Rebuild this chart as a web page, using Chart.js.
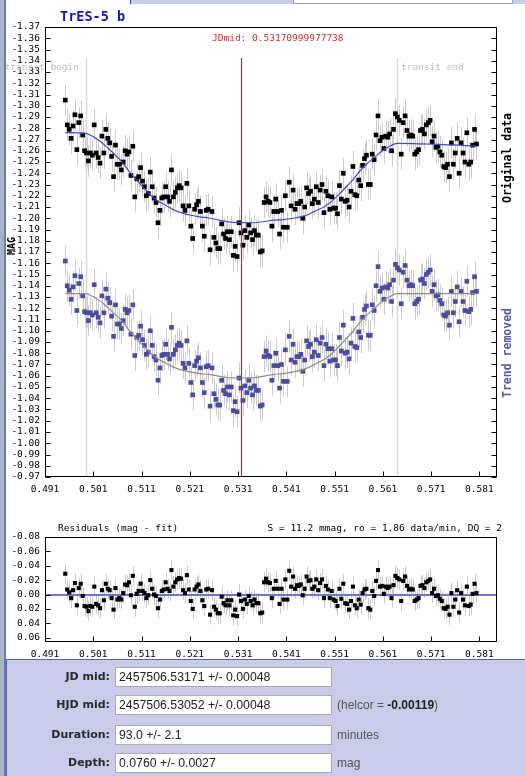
<!DOCTYPE html>
<html>
<head>
<meta charset="utf-8">
<script src="https://cdn.jsdelivr.net/npm/chart.js@4.4.1/dist/chart.umd.min.js"></script>
<style>
body { margin:0; background:#fff; width:525px; height:776px; position:relative; overflow:hidden; }
canvas { position:absolute; left:0; }
.t { position:absolute; white-space:nowrap; line-height:1; }
.mono { font-family:"DejaVu Sans Mono", monospace; font-size:9.5px; }
.rot { transform:translate(-50%,-50%) rotate(-90deg); font-family:"DejaVu Sans Mono", monospace; font-weight:bold; }
.lbl { position:absolute; left:0; width:110px; text-align:right; font:bold 11px "DejaVu Sans", sans-serif; color:#2a2a2a; line-height:20px; }
.box { position:absolute; left:115px; width:217px; height:20px; box-sizing:border-box; background:#fff;
       border:1px solid #a8a8b0; padding-left:3px; font:12.3px "Liberation Sans", Arial, sans-serif; color:#222; line-height:18px; }
.unit { position:absolute; left:337px; font:12px "Liberation Sans", Arial, sans-serif; color:#555; line-height:20px; }
</style>
</head>
<body>
<canvas id="lcChart" width="525" height="500" style="top:0"></canvas>
<canvas id="resChart" width="525" height="160" style="top:500px"></canvas>

<div class="t" style="left:130px;top:0;width:395px;height:4px;background:#c9cbe8;border-left:1px solid #3548a0"></div>
<div class="t" style="left:293px;top:0;width:218px;height:3px;background:#fff;border:1px solid #a0a0a8;border-top:0"></div>

<div class="t" style="left:60px;top:8px;font:bold 13.5px 'DejaVu Sans Mono',monospace;color:#1616a8">TrES-5 b</div>
<div class="t mono" style="left:212px;top:33px;color:#c83232">JDmid: 0.53170999977738</div>
<div class="t mono" style="left:0;width:79px;text-align:right;top:62px;color:#bdbdbd">transit begin</div>
<div class="t mono" style="left:401px;top:62px;color:#bdbdbd">transit end</div>
<div class="t rot" style="left:12px;top:246px;font-size:10px;color:#000">MAG</div>
<div class="t rot" style="left:508px;top:158px;font-size:11.5px;color:#000">Original data</div>
<div class="t rot" style="left:508px;top:353px;font-size:11.5px;color:#5656a6">Trend removed</div>

<div class="t mono" style="left:58px;top:523px;color:#000">Residuals (mag - fit)</div>
<div class="t mono" style="left:0;width:502px;text-align:right;top:523px;color:#000">S = 11.2 mmag, ro = 1.86 data/min, DQ = 2</div>

<div class="t" style="left:6px;top:659px;width:519px;height:117px;background:#c9cbe8;border-top:1px solid #5565a8;border-left:1px solid #5565a8"></div>
<div class="lbl" style="top:667px">JD mid:</div>
<div class="box" style="top:667px">2457506.53171 +/- 0.00048</div>
<div class="lbl" style="top:695px">HJD mid:</div>
<div class="box" style="top:695px">2457506.53052 +/- 0.00048</div>
<div class="unit" style="top:695px">(helcor = <b style="color:#222">-0.00119</b>)</div>
<div class="lbl" style="top:725px">Duration:</div>
<div class="box" style="top:725px">93.0 +/- 2.1</div>
<div class="unit" style="top:725px">minutes</div>
<div class="lbl" style="top:753px">Depth:</div>
<div class="box" style="top:753px">0.0760 +/- 0.0027</div>
<div class="unit" style="top:753px">mag</div>

<div class="t" style="left:0;top:0;width:4px;height:776px;background:#a9b4c6"></div>
<div class="t" style="left:4px;top:0;width:2px;height:776px;background:#6d7ca2"></div>

<script>
// time (JD - 2457506) of each measurement
var times = [
0.4952,0.4956,0.4960,0.4964,0.4968,0.4972,0.4976,0.4980,0.4984,0.4988,
0.4992,0.4996,0.5000,0.5004,0.5008,0.5012,0.5016,0.5020,0.5024,0.5028,
0.5032,0.5036,0.5040,0.5044,0.5048,0.5052,0.5056,0.5060,0.5064,0.5068,
0.5072,0.5076,0.5080,0.5084,0.5088,0.5092,0.5096,0.5100,0.5104,0.5108,
0.5112,0.5116,0.5120,0.5124,0.5128,0.5132,0.5136,0.5140,0.5144,0.5148,
0.5152,0.5156,0.5160,0.5164,0.5168,0.5172,0.5176,0.5180,0.5184,0.5188,
0.5192,0.5196,0.5200,0.5204,0.5208,0.5212,0.5216,0.5220,0.5224,0.5228,
0.5232,0.5236,0.5240,0.5244,0.5248,0.5252,0.5256,0.5260,0.5264,0.5268,
0.5272,0.5276,0.5280,0.5284,0.5288,0.5292,0.5296,0.5300,0.5304,0.5308,
0.5312,0.5316,0.5320,0.5324,0.5328,0.5332,0.5336,0.5340,0.5344,0.5348,
0.5352,0.5356,0.5360,0.5364,0.5368,0.5372,0.5376,0.5380,0.5384,0.5388,
0.5392,0.5396,0.5400,0.5404,0.5408,0.5412,0.5416,0.5420,0.5424,0.5428,
0.5432,0.5436,0.5440,0.5444,0.5448,0.5452,0.5456,0.5460,0.5464,0.5468,
0.5472,0.5476,0.5480,0.5484,0.5488,0.5492,0.5496,0.5500,0.5504,0.5508,
0.5512,0.5516,0.5520,0.5524,0.5528,0.5532,0.5536,0.5540,0.5544,0.5548,
0.5552,0.5556,0.5560,0.5564,0.5568,0.5572,0.5576,0.5580,0.5584,0.5588,
0.5592,0.5596,0.5600,0.5604,0.5608,0.5612,0.5616,0.5620,0.5624,0.5628,
0.5632,0.5636,0.5640,0.5644,0.5648,0.5652,0.5656,0.5660,0.5664,0.5668,
0.5672,0.5676,0.5680,0.5684,0.5688,0.5692,0.5696,0.5700,0.5704,0.5708,
0.5712,0.5716,0.5720,0.5724,0.5728,0.5732,0.5736,0.5740,0.5744,0.5748,
0.5752,0.5756,0.5760,0.5764,0.5768,0.5772,0.5776,0.5780,0.5784,0.5788,
0.5792,0.5796,0.5800,0.5804];

var originalMag = [
-1.305,-1.283,-1.279,-1.271,-1.282,-1.292,-1.261,-1.285,-1.291,-1.274,
-1.260,-1.258,-1.251,-1.258,-1.256,-1.283,-1.258,-1.254,-1.249,-1.273,
-1.258,-1.279,-1.271,-1.267,-1.255,-1.237,-1.265,-1.248,-1.248,-1.243,
-1.250,-1.260,-1.257,-1.259,-1.238,-1.264,-1.219,-1.235,-1.237,-1.245,
-1.233,-1.228,-1.220,-1.222,-1.241,-1.228,-1.218,-1.214,-1.196,-1.207,
-1.218,-1.219,-1.228,-1.219,-1.215,-1.243,-1.219,-1.223,-1.227,-1.229,
-1.227,-1.211,-1.207,-1.231,-1.211,-1.193,-1.182,-1.208,-1.212,-1.215,
-1.206,-1.193,-1.184,-1.207,-1.208,-1.172,-1.206,-1.183,-1.178,-1.173,
-1.173,-1.195,-1.186,-1.182,-1.188,-1.181,-1.188,-1.167,-1.175,-1.166,
-1.196,-1.187,-1.176,-1.189,-1.183,-1.194,-1.187,-1.181,-1.189,-1.185,
-1.185,-1.170,-1.171,-1.214,-1.219,-1.215,-1.214,-1.193,-1.206,-1.217,
-1.206,-1.186,-1.207,-1.192,-1.220,-1.192,-1.232,-1.211,-1.225,-1.208,
-1.213,-1.213,-1.215,-1.200,-1.210,-1.227,-1.222,-1.224,-1.213,-1.217,
-1.228,-1.214,-1.225,-1.230,-1.205,-1.224,-1.220,-1.208,-1.219,-1.209,
-1.209,-1.204,-1.229,-1.217,-1.240,-1.215,-1.216,-1.210,-1.224,-1.246,
-1.221,-1.220,-1.234,-1.229,-1.247,-1.253,-1.256,-1.230,-1.230,-1.257,
-1.252,-1.274,-1.291,-1.269,-1.272,-1.262,-1.273,-1.272,-1.275,-1.260,
-1.279,-1.293,-1.290,-1.287,-1.257,-1.285,-1.291,-1.278,-1.273,-1.274,
-1.273,-1.257,-1.259,-1.261,-1.278,-1.279,-1.275,-1.283,-1.285,-1.287,
-1.268,-1.273,-1.263,-1.264,-1.259,-1.256,-1.246,-1.245,-1.248,-1.237,
-1.267,-1.248,-1.258,-1.271,-1.240,-1.267,-1.258,-1.250,-1.276,-1.248,
-1.250,-1.265,-1.279,-1.266];

var detrendedMag = [
-1.162,-1.140,-1.136,-1.128,-1.139,-1.149,-1.118,-1.142,-1.148,-1.131,
-1.117,-1.116,-1.109,-1.116,-1.114,-1.141,-1.116,-1.112,-1.107,-1.131,
-1.116,-1.137,-1.129,-1.125,-1.113,-1.095,-1.123,-1.106,-1.106,-1.102,
-1.109,-1.119,-1.116,-1.118,-1.097,-1.123,-1.078,-1.094,-1.096,-1.104,
-1.092,-1.087,-1.079,-1.081,-1.100,-1.087,-1.077,-1.074,-1.056,-1.067,
-1.078,-1.079,-1.088,-1.079,-1.075,-1.103,-1.079,-1.083,-1.087,-1.089,
-1.087,-1.071,-1.067,-1.091,-1.071,-1.054,-1.043,-1.069,-1.073,-1.076,
-1.067,-1.054,-1.045,-1.068,-1.069,-1.033,-1.067,-1.044,-1.039,-1.034,
-1.034,-1.056,-1.047,-1.044,-1.050,-1.043,-1.050,-1.029,-1.037,-1.028,
-1.058,-1.049,-1.038,-1.051,-1.045,-1.056,-1.049,-1.043,-1.051,-1.047,
-1.047,-1.033,-1.034,-1.077,-1.082,-1.078,-1.077,-1.056,-1.069,-1.080,
-1.069,-1.049,-1.070,-1.055,-1.083,-1.055,-1.095,-1.074,-1.088,-1.072,
-1.077,-1.077,-1.079,-1.064,-1.074,-1.091,-1.086,-1.088,-1.077,-1.081,
-1.092,-1.078,-1.089,-1.094,-1.069,-1.088,-1.084,-1.073,-1.084,-1.074,
-1.074,-1.069,-1.094,-1.082,-1.105,-1.080,-1.081,-1.075,-1.089,-1.111,
-1.086,-1.085,-1.099,-1.094,-1.112,-1.119,-1.122,-1.096,-1.096,-1.123,
-1.118,-1.140,-1.157,-1.135,-1.138,-1.128,-1.139,-1.138,-1.141,-1.126,
-1.145,-1.159,-1.156,-1.154,-1.124,-1.152,-1.158,-1.145,-1.140,-1.141,
-1.140,-1.124,-1.126,-1.128,-1.145,-1.146,-1.142,-1.150,-1.152,-1.154,
-1.135,-1.141,-1.131,-1.132,-1.127,-1.124,-1.114,-1.113,-1.116,-1.105,
-1.135,-1.116,-1.126,-1.139,-1.108,-1.135,-1.126,-1.118,-1.144,-1.117,
-1.119,-1.134,-1.148,-1.135];

var residualMag = [
-0.029,-0.007,-0.003,0.005,-0.006,-0.016,0.015,-0.009,-0.015,0.002,
0.016,0.017,0.023,0.016,0.017,-0.011,0.013,0.015,0.019,-0.006,
0.008,-0.015,-0.008,-0.006,0.005,0.021,-0.009,0.007,0.005,0.007,
-0.002,-0.014,-0.013,-0.017,0.001,-0.026,0.017,-0.001,-0.005,-0.015,
-0.005,-0.002,0.005,0.001,-0.020,-0.008,0.000,0.002,0.019,0.007,
-0.005,-0.007,-0.017,-0.008,-0.005,-0.034,-0.011,-0.017,-0.021,-0.023,
-0.022,-0.006,-0.002,-0.027,-0.007,0.009,0.020,-0.007,-0.011,-0.014,
-0.005,0.008,0.016,-0.007,-0.008,0.028,-0.006,0.017,0.021,0.026,
0.026,0.003,0.012,0.015,0.008,0.015,0.008,0.029,0.021,0.030,
0.000,0.009,0.020,0.007,0.013,0.002,0.009,0.015,0.007,0.012,
0.012,0.026,0.025,-0.017,-0.022,-0.017,-0.016,0.005,-0.008,-0.019,
-0.008,0.013,-0.008,0.007,-0.021,0.007,-0.033,-0.011,-0.025,-0.008,
-0.013,-0.012,-0.014,0.001,-0.008,-0.025,-0.019,-0.020,-0.008,-0.011,
-0.021,-0.006,-0.016,-0.021,0.005,-0.012,-0.007,0.005,-0.005,0.007,
0.009,0.016,-0.008,0.006,-0.015,0.012,0.013,0.021,0.009,-0.011,
0.015,0.019,0.007,0.014,-0.002,-0.007,-0.008,0.019,0.021,-0.005,
0.002,-0.019,-0.034,-0.011,-0.012,-0.001,-0.011,-0.009,-0.011,0.005,
-0.013,-0.026,-0.023,-0.021,0.009,-0.019,-0.025,-0.012,-0.007,-0.008,
-0.007,0.009,0.007,0.005,-0.012,-0.013,-0.009,-0.017,-0.019,-0.021,
-0.002,-0.008,0.002,0.001,0.006,0.009,0.019,0.020,0.017,0.028,
-0.002,0.017,0.007,-0.006,0.025,-0.002,0.007,0.015,-0.011,0.016,
0.014,-0.001,-0.015,-0.002];

// transit model curves
var fitTimes = [0.4952,0.4994,0.5010,0.5025,0.5040,0.5055,0.5070,0.5085,0.5100,0.5115,0.5130,0.5145,0.5160,0.5175,0.5190,0.5210,0.5230,0.5250,0.5270,0.5290,0.5317,
                0.5344,0.5364,0.5384,0.5404,0.5424,0.5444,0.5459,0.5474,0.5489,0.5504,0.5519,0.5534,0.5549,0.5564,0.5579,0.5594,0.5609,0.5624,0.5640,0.5804];
var fitOriginal = [-1.2761,-1.2755,-1.2725,-1.2682,-1.2625,-1.2565,-1.2498,-1.2413,-1.2339,-1.2268,-1.2201,-1.2150,-1.2116,-1.2079,-1.2052,-1.2029,-1.2012,-1.2002,-1.1984,-1.1967,-1.1961,
                   -1.1960,-1.1971,-1.1983,-1.1988,-1.2000,-1.2017,-1.2040,-1.2073,-1.2103,-1.2150,-1.2212,-1.2278,-1.2348,-1.2429,-1.2492,-1.2548,-1.2601,-1.2640,-1.2665,-1.2642];
var fitDetrended = [-1.1330,-1.1330,-1.1302,-1.1261,-1.1206,-1.1148,-1.1083,-1.1000,-1.0928,-1.0860,-1.0795,-1.0746,-1.0714,-1.0679,-1.0654,-1.0634,-1.0619,-1.0612,-1.0597,-1.0583,-1.0580,
                    -1.0583,-1.0597,-1.0612,-1.0619,-1.0634,-1.0654,-1.0679,-1.0714,-1.0746,-1.0795,-1.0860,-1.0928,-1.1000,-1.1083,-1.1148,-1.1206,-1.1261,-1.1302,-1.1330,-1.1330];

var xTicks = [0.491,0.501,0.511,0.521,0.531,0.541,0.551,0.561,0.571,0.581];
var magTicks = [-1.37,-1.36,-1.35,-1.34,-1.33,-1.32,-1.31,-1.30,-1.29,-1.28,-1.27,-1.26,-1.25,-1.24,-1.23,-1.22,-1.21,-1.20,-1.19,-1.18,-1.17,
                -1.16,-1.15,-1.14,-1.13,-1.12,-1.11,-1.10,-1.09,-1.08,-1.07,-1.06,-1.05,-1.04,-1.03,-1.02,-1.01,-1.00,-0.99,-0.98,-0.97];
var residualTicks = [-0.08,-0.06,-0.04,-0.02,0.00,0.02,0.04,0.06];

var jdMid = 0.53171;
var transitBegin = 0.4994;
var transitEnd = 0.5640;
var errorMag = 0.014;

var xMin = 0.491, xMax = 0.58465;
var tickFont = { family: "'DejaVu Sans Mono', monospace", size: 9.5 };

function toPoints(xs, ys){
    return xs.map(function(x, i){ return { x: x, y: ys[i] }; });
}

function drawErrorBars(chart){
    var ctx = chart.ctx, xs = chart.scales.x, ys = chart.scales.y, a = chart.chartArea;
    ctx.save();
    ctx.beginPath();
    ctx.rect(a.left, a.top, a.right - a.left, a.bottom - a.top);
    ctx.clip();
    ctx.strokeStyle = '#cbcbcb';
    ctx.lineWidth = 1;
    chart.data.datasets.forEach(function(ds){
        if(!ds.errorBar) return;
        ctx.beginPath();
        ds.data.forEach(function(p){
            var x = Math.round(xs.getPixelForValue(p.x)) + 0.5;
            ctx.moveTo(x, ys.getPixelForValue(p.y - ds.errorBar));
            ctx.lineTo(x, ys.getPixelForValue(p.y + ds.errorBar));
        });
        ctx.stroke();
    });
    ctx.restore();
}

function drawFrame(chart, sides){
    var ctx = chart.ctx, a = chart.chartArea, xs = chart.scales.x, ys = chart.scales.y;
    var L = Math.round(a.left) + 0.5, R = Math.round(a.right) - 0.5;
    var T = Math.round(a.top) + 0.5, B = Math.round(a.bottom) - 0.5;
    ctx.save();
    ctx.strokeStyle = '#000';
    ctx.lineWidth = 1;
    ctx.strokeRect(L, T, R - L, B - T);
    ctx.beginPath();
    ys.ticks.forEach(function(t){
        var y = Math.round(ys.getPixelForValue(t.value)) + 0.5;
        if(sides.left){ ctx.moveTo(L, y); ctx.lineTo(L + 5, y); }
        if(sides.right){ ctx.moveTo(R, y); ctx.lineTo(R - 5, y); }
    });
    if(sides.bottom){
        xs.ticks.forEach(function(t){
            var x = Math.round(xs.getPixelForValue(t.value)) + 0.5;
            ctx.moveTo(x, B); ctx.lineTo(x, B - 5);
        });
    }
    ctx.stroke();
    ctx.restore();
}

function makeOptions(yMin, yMax, yTicks, topPad, xHeight){
    return {
        responsive: false,
        animation: false,
        devicePixelRatio: 1,
        layout: { padding: { top: topPad, right: 28, left: 0, bottom: 0 } },
        plugins: { legend: { display: false }, tooltip: { enabled: false } },
        scales: {
            x: {
                type: 'linear', min: xMin, max: xMax,
                grid: { display: false, drawTicks: false },
                border: { display: false },
                afterBuildTicks: function(axis){ axis.ticks = xTicks.map(function(v){ return { value: v }; }); },
                afterFit: function(axis){ axis.height = xHeight; },
                ticks: { autoSkip: false, maxRotation: 0, padding: 7, color: '#000', font: tickFont,
                         callback: function(v){ return v.toFixed(3); } }
            },
            y: {
                type: 'linear', min: yMin, max: yMax, reverse: true,
                grid: { display: false, drawTicks: false },
                border: { display: false },
                afterBuildTicks: function(axis){ axis.ticks = yTicks.map(function(v){ return { value: v }; }); },
                afterFit: function(axis){ axis.width = 45; },
                ticks: { autoSkip: false, padding: 5, color: '#000', font: tickFont,
                         callback: function(v){ return v.toFixed(2); } }
            }
        }
    };
}

function createLightCurveChart(){
    var ctx = document.getElementById('lcChart').getContext('2d');
    var decor = {
        id: 'lcDecor',
        beforeDatasetsDraw: function(chart){
            drawErrorBars(chart);
            var c = chart.ctx, xs = chart.scales.x, ys = chart.scales.y, a = chart.chartArea;
            var top = ys.getPixelForValue(-1.3425);
            c.save();
            c.lineWidth = 1.5;
            c.strokeStyle = '#d8d8d8';
            var xb = Math.round(xs.getPixelForValue(transitBegin)) + 0.5;
            var xe = Math.round(xs.getPixelForValue(transitEnd)) + 0.5;
            c.beginPath();
            c.moveTo(xb, top); c.lineTo(xb, a.bottom);
            c.moveTo(xe, top); c.lineTo(xe, a.bottom);
            c.stroke();
            c.restore();
        },
        afterDatasetsDraw: function(chart){
            var c = chart.ctx, xs = chart.scales.x, ys = chart.scales.y, a = chart.chartArea;
            var top = ys.getPixelForValue(-1.3425);
            var xm = Math.round(xs.getPixelForValue(jdMid)) + 0.5;
            c.save();
            c.lineWidth = 1.2;
            c.strokeStyle = 'rgb(214,30,30)';
            c.beginPath(); c.moveTo(xm, top); c.lineTo(xm, a.bottom); c.stroke();
            c.restore();
        },
        afterDraw: function(chart){ drawFrame(chart, { left: true, right: true, bottom: true }); }
    };
    new Chart(ctx, {
        type: 'scatter',
        data: {
            datasets: [{
                data: toPoints(fitTimes, fitOriginal),
                showLine: true, borderColor: '#4848c8', borderWidth: 1.2,
                pointRadius: 0, cubicInterpolationMode: 'monotone', order: 0
            }, {
                data: toPoints(fitTimes, fitDetrended),
                showLine: true, borderColor: '#8c8c8c', borderWidth: 1.2,
                pointRadius: 0, cubicInterpolationMode: 'monotone', order: 0
            }, {
                data: toPoints(times, originalMag),
                pointStyle: 'rect', pointRadius: 3.3, borderWidth: 0,
                backgroundColor: '#000', errorBar: errorMag, order: 1
            }, {
                data: toPoints(times, detrendedMag),
                pointStyle: 'rect', pointRadius: 3.3, borderWidth: 0,
                backgroundColor: '#4c4c9c', errorBar: errorMag, order: 1
            }]
        },
        options: makeOptions(-1.37, -0.97, magTicks, 27, 23),
        plugins: [decor]
    });
}

function createResidualChart(){
    var ctx = document.getElementById('resChart').getContext('2d');
    var decor = {
        id: 'resDecor',
        beforeDatasetsDraw: function(chart){
            drawErrorBars(chart);
            var c = chart.ctx, ys = chart.scales.y, a = chart.chartArea;
            var y = Math.round(ys.getPixelForValue(0));
            c.save();
            c.strokeStyle = '#7272d6';
            c.lineWidth = 2;
            c.beginPath(); c.moveTo(a.left, y); c.lineTo(a.right, y); c.stroke();
            c.restore();
        },
        afterDraw: function(chart){ drawFrame(chart, { left: true, right: false, bottom: true }); }
    };
    new Chart(ctx, {
        type: 'scatter',
        data: {
            datasets: [{
                data: toPoints(times, residualMag),
                pointStyle: 'rect', pointRadius: 2.9, borderWidth: 0,
                backgroundColor: '#000', errorBar: errorMag
            }]
        },
        options: makeOptions(-0.08, 0.066, residualTicks, 37, 18),
        plugins: [decor]
    });
}

createLightCurveChart();
createResidualChart();
</script>
</body>
</html>
